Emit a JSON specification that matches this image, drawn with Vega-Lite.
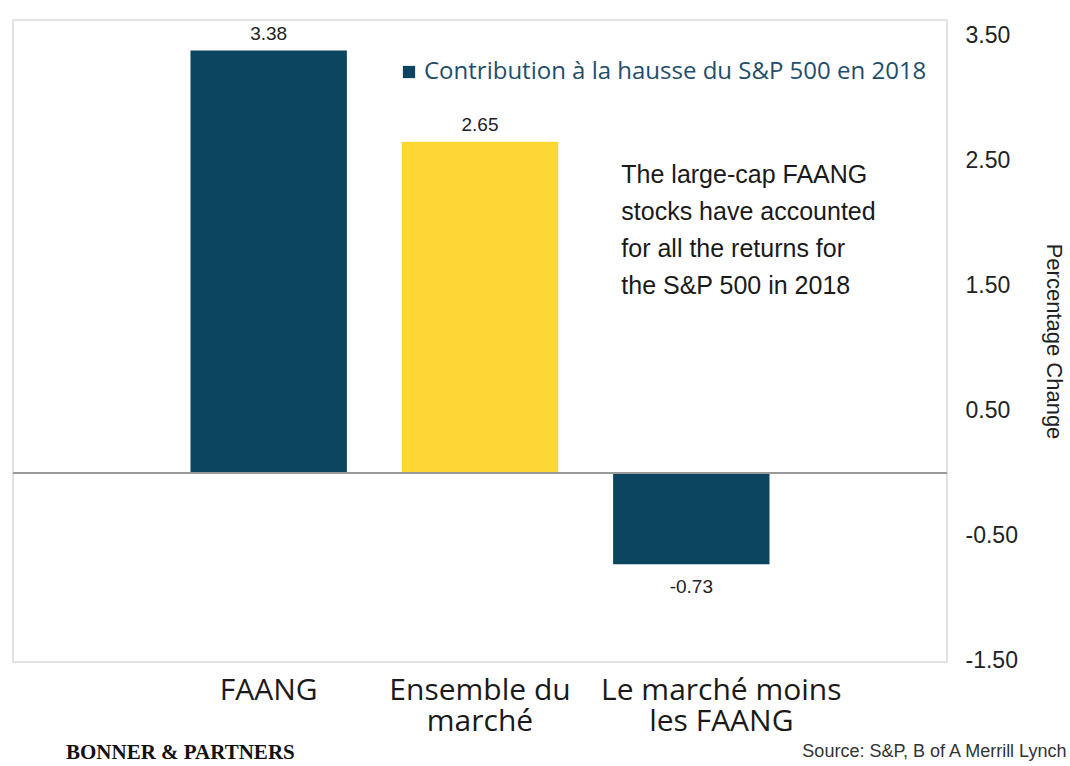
{
  "$schema": "https://vega.github.io/schema/vega-lite/v6.json",
  "width": 934,
  "height": 642,
  "padding": {"left": 12, "top": 20, "right": 0, "bottom": 0},
  "autosize": {"type": "pad"},
  "background": "white",
  "config": {
    "view": {"stroke": "#d9d9d9", "strokeWidth": 1.5},
    "locale": {"number": {"decimal": ".", "thousands": ",", "grouping": [3], "currency": ["$", ""], "minus": "-"}}
  },
  "title": {
    "text": "BONNER & PARTNERS",
    "orient": "bottom",
    "anchor": "start",
    "frame": "group",
    "font": "Liberation Serif",
    "fontSize": 21,
    "fontWeight": "bold",
    "color": "#111111",
    "dx": 53,
    "offset": -18
  },
  "datasets": {
    "barres": [
      {"categorie": "FAANG", "valeur": 3.38, "serie": "Contribution à la hausse du S&P 500 en 2018"},
      {"categorie": "Ensemble du marché", "valeur": 2.65, "serie": "Contribution à la hausse du S&P 500 en 2018"},
      {"categorie": "Le marché moins les FAANG", "valeur": -0.73, "serie": "Contribution à la hausse du S&P 500 en 2018"}
    ],
    "note": [
      {"categorie": "Le marché moins les FAANG", "y": 2.32, "texte": "The large-cap FAANG\nstocks have accounted\nfor all the returns for\nthe S&P 500 in 2018"}
    ]
  },
  "data": {"name": "barres"},
  "encoding": {
    "x": {
      "field": "categorie",
      "type": "nominal",
      "sort": null,
      "scale": {"paddingInner": 0.26, "paddingOuter": 0.84},
      "axis": {
        "title": "Source:  S&P, B of A Merrill Lynch",
        "titleFont": "Liberation Sans",
        "titleFontSize": 18,
        "titleFontWeight": "normal",
        "titleColor": "#333333",
        "titleX": 1053,
        "titleY": 94,
        "titleAlign": "right",
        "titleBaseline": "alphabetic",
        "labelAngle": 0,
        "labelFont": "Open Sans",
        "labelFontSize": 30,
        "labelColor": "#1a1a1a",
        "labelPadding": 13,
        "labelBaseline": "top",
        "labelLineHeight": 31,
        "labelLimit": 0,
        "labelOverlap": false,
        "labelExpr": "datum.value == 'Ensemble du marché' ? ['Ensemble du', 'marché'] : datum.value == 'Le marché moins les FAANG' ? ['Le marché moins', 'les FAANG'] : datum.value",
        "labelOffset": {"condition": {"test": "datum.value == 'Le marché moins les FAANG'", "value": 30}, "value": 0},
        "ticks": false,
        "domain": false,
        "grid": false
      }
    },
    "y": {
      "field": "valeur",
      "type": "quantitative",
      "scale": {"domain": [-1.512, 3.624], "nice": false, "zero": false},
      "axis": {
        "orient": "right",
        "values": [-1.5, -0.5, 0.5, 1.5, 2.5, 3.5],
        "format": ".2f",
        "labelFont": "Liberation Sans",
        "labelFontSize": 23,
        "labelColor": "#222222",
        "labelPadding": 18,
        "ticks": false,
        "domain": false,
        "grid": false,
        "title": "Percentage Change",
        "titleFont": "Liberation Sans",
        "titleFontSize": 22,
        "titleFontWeight": "normal",
        "titleColor": "#222222",
        "titleAngle": 90,
        "titlePadding": 24
      }
    }
  },
  "layer": [
    {
      "mark": {"type": "bar"},
      "encoding": {
        "color": {
          "condition": {"test": "datum.categorie == 'Ensemble du marché'", "value": "#fdd835"},
          "field": "serie",
          "type": "nominal",
          "scale": {"range": ["#0b4560"]},
          "legend": {
            "orient": "none",
            "legendX": 384,
            "legendY": 40,
            "title": null,
            "symbolType": "square",
            "symbolSize": 150,
            "symbolStrokeWidth": 0,
            "labelFont": "Open Sans",
            "labelFontSize": 24,
            "labelColor": "#1f4e6b",
            "labelLimit": 0,
            "labelOffset": 3
          }
        }
      }
    },
    {
      "mark": {"type": "rule", "color": "#9a9a9a", "strokeWidth": 2},
      "encoding": {"y": {"datum": 0}, "x": {"value": 0}, "x2": {"value": 934}}
    },
    {
      "transform": [{"filter": "datum.valeur >= 0"}],
      "mark": {"type": "text", "baseline": "bottom", "dy": -7, "font": "Liberation Sans", "fontSize": 19, "color": "#222222"},
      "encoding": {"text": {"field": "valeur", "type": "quantitative", "format": ".2f"}}
    },
    {
      "transform": [{"filter": "datum.valeur < 0"}],
      "mark": {"type": "text", "baseline": "top", "dy": 14, "font": "Liberation Sans", "fontSize": 19, "color": "#222222"},
      "encoding": {"text": {"field": "valeur", "type": "quantitative", "format": ".2f"}}
    },
    {
      "data": {"name": "note"},
      "mark": {
        "type": "text",
        "align": "left",
        "baseline": "alphabetic",
        "lineBreak": "\n",
        "dx": -70,
        "lineHeight": 37,
        "font": "Liberation Sans",
        "fontSize": 25,
        "color": "#1a1a1a"
      },
      "encoding": {
        "x": {"field": "categorie", "type": "nominal"},
        "y": {"field": "y", "type": "quantitative"},
        "text": {"field": "texte", "type": "nominal"}
      }
    }
  ]
}
